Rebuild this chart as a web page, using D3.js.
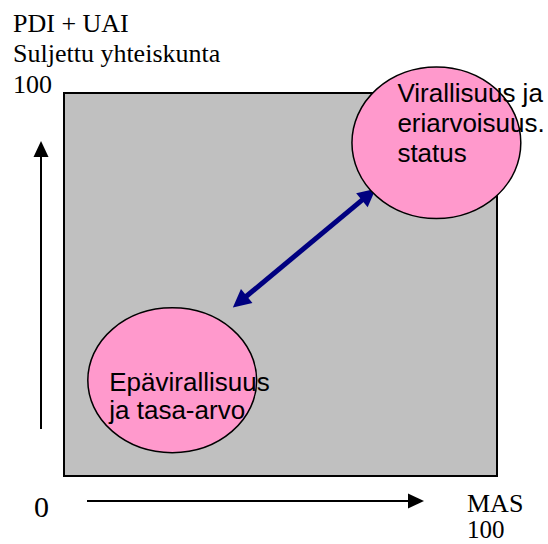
<!DOCTYPE html>
<html><head><meta charset="utf-8">
<script src="https://cdn.jsdelivr.net/npm/d3@7"></script>
<style>html,body{margin:0;padding:0;background:#fff}svg{display:block}</style>
</head><body>
<script>
// Data (0..100 scale on both axes)
const axisTitlesY = ["PDI + UAI", "Suljettu yhteiskunta", "100"];
const axisTitlesX = ["MAS", "100"];
const originLabel = "0";
const domainMin = 0, domainMax = 100;
const regionNames = ["Virallisuus ja eriarvoisuus. status", "Epävirallisuus ja tasa-arvo"];
const regionLines = [["Virallisuus ja", "eriarvoisuus.", "status"], ["Epävirallisuus", "ja tasa-arvo"]];
const regionX = [86, 25];
const regionY = [87, 25];
const regionRx = [19.5, 19.5];
const regionRy = [19.8, 18.9];
const linkFrom = [39, 44];
const linkTo = [72, 75];

const W = 548, H = 544;
const svg = d3.select("body").append("svg").attr("width", W).attr("height", H);

const x = d3.scaleLinear().domain([domainMin, domainMax]).range([64, 497]);
const y = d3.scaleLinear().domain([domainMin, domainMax]).range([476, 93]);

function arrowHead(g, x1, y1, x2, y2, len, half, color) {
  const a = Math.atan2(y2 - y1, x2 - x1);
  const bx = x2 - len * Math.cos(a), by = y2 - len * Math.sin(a);
  const px = -Math.sin(a) * half, py = Math.cos(a) * half;
  g.append("path")
    .attr("d", `M${x2},${y2}L${bx + px},${by + py}L${bx - px},${by - py}Z`)
    .attr("fill", color);
}

// gray plot area
svg.append("rect")
  .attr("x", x(domainMin)).attr("y", y(domainMax))
  .attr("width", x(domainMax) - x(domainMin)).attr("height", y(domainMin) - y(domainMax))
  .attr("fill", "#c0c0c0").attr("stroke", "#000").attr("stroke-width", 2);

// axis arrows
const ax = svg.append("g");
const yaX = 41, yaY1 = 429, yaY2 = 141;
ax.append("line").attr("x1", yaX).attr("y1", yaY1).attr("x2", yaX).attr("y2", yaY2 + 14)
  .attr("stroke", "#000").attr("stroke-width", 2);
arrowHead(ax, yaX, yaY1, yaX, yaY2, 16, 7.5, "#000");
const xaY = 501, xaX1 = 87, xaX2 = 424;
ax.append("line").attr("x1", xaX1).attr("y1", xaY).attr("x2", xaX2 - 14).attr("y2", xaY)
  .attr("stroke", "#000").attr("stroke-width", 2);
arrowHead(ax, xaX1, xaY, xaX2, xaY, 16, 7.5, "#000");

// labels
const serif = "'Liberation Serif','Times New Roman',serif";
const tl = svg.append("g").attr("font-family", serif).attr("font-size", 26).attr("fill", "#000");
[32, 62, 93].forEach((b, i) => tl.append("text").attr("x", 13).attr("y", b).text(axisTitlesY[i]));
[512, 538].forEach((b, i) => tl.append("text").attr("x", 467).attr("y", b)
  .attr("font-size", i === 1 ? 25 : 26).text(axisTitlesX[i]));
svg.append("text").attr("font-family", serif).attr("font-size", 30).attr("x", 34).attr("y", 517).text(originLabel);

// blue double arrow
const bl = svg.append("g");
const bx1 = x(linkFrom[0]), by1 = y(linkFrom[1]), bx2 = x(linkTo[0]), by2 = y(linkTo[1]);
const ang = Math.atan2(by2 - by1, bx2 - bx1), inset = 14;
bl.append("line")
  .attr("x1", bx1 + inset * Math.cos(ang)).attr("y1", by1 + inset * Math.sin(ang))
  .attr("x2", bx2 - inset * Math.cos(ang)).attr("y2", by2 - inset * Math.sin(ang))
  .attr("stroke", "#000080").attr("stroke-width", 5);
arrowHead(bl, bx1, by1, bx2, by2, 18, 9, "#000080");
arrowHead(bl, bx2, by2, bx1, by1, 18, 9, "#000080");

// ellipses + text
const sans = "'Liberation Sans',Arial,sans-serif";
const textDx = [-39, -63];
const textDy = [-41, 10.5];
const lineH = [30, 28.6];
regionNames.forEach((name, i) => {
  const cx = x(regionX[i]), cy = y(regionY[i]);
  const g = svg.append("g").attr("class", "region").attr("data-name", name);
  g.append("ellipse").attr("cx", cx).attr("cy", cy)
    .attr("rx", x(regionRx[i]) - x(0)).attr("ry", y(0) - y(regionRy[i]))
    .attr("fill", "#ff99cc").attr("stroke", "#000").attr("stroke-width", 1.5);
  regionLines[i].forEach((ln, j) => {
    g.append("text").attr("font-family", sans).attr("font-size", 26)
      .attr("x", cx + textDx[i]).attr("y", cy + textDy[i] + j * lineH[i]).text(ln);
  });
});
</script>
</body></html>
